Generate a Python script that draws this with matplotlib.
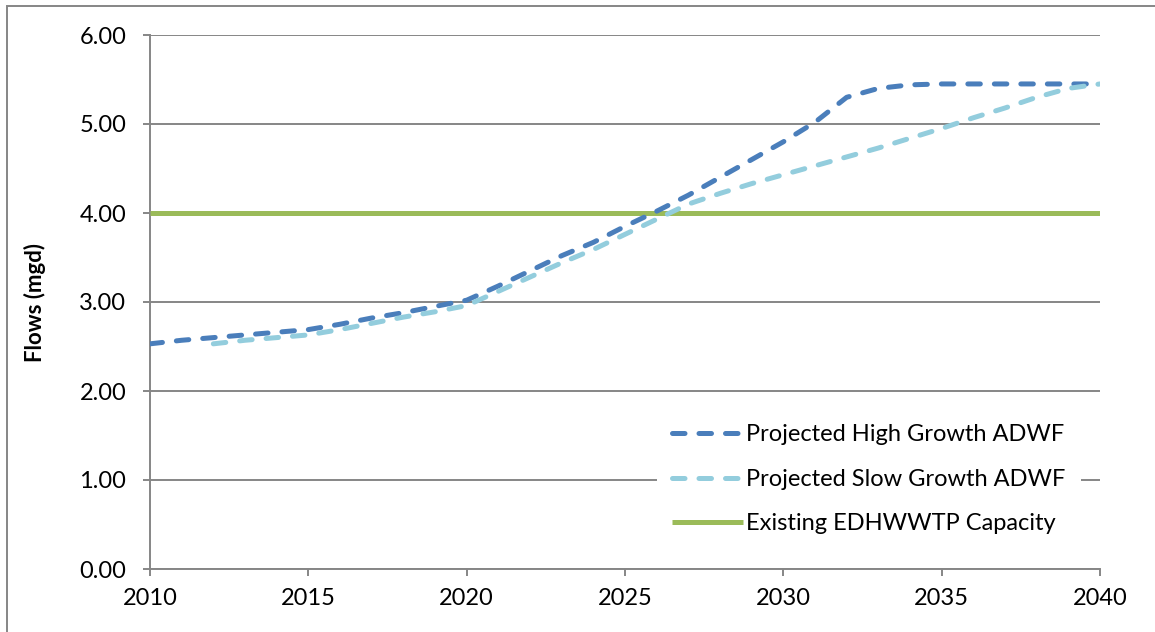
import matplotlib
matplotlib.use('Agg')
import matplotlib.pyplot as plt
from matplotlib.patches import Rectangle

plt.rcParams.update({
    'font.family': ['Lato', 'DejaVu Sans'],
    'font.size': 17,
})

# ---- data ----
years_high = list(range(2010, 2041))
high_growth = [2.53, 2.57, 2.60, 2.63, 2.66, 2.69, 2.75, 2.82, 2.88, 2.95,
               3.02, 3.18, 3.35, 3.52, 3.67, 3.85, 4.02, 4.20, 4.40, 4.60,
               4.80, 5.02, 5.30, 5.40, 5.44, 5.45, 5.45, 5.45, 5.45, 5.45,
               5.45]

years_slow = list(range(2012, 2041))
slow_growth = [2.53, 2.57, 2.60, 2.63, 2.69, 2.76, 2.83, 2.89,
               2.96, 3.12, 3.28, 3.44, 3.59, 3.76, 3.93, 4.10, 4.22, 4.33,
               4.43, 4.53, 4.63, 4.73, 4.84, 4.95, 5.07, 5.18, 5.30, 5.40,
               5.45]

capacity_years = [2010, 2040]
capacity = [4.0, 4.0]

labels = ['Projected High Growth ADWF', 'Projected Slow Growth ADWF',
          'Existing EDHWWTP Capacity']
colors = ['#4A7EBB', '#93CDDD', '#9BBB59']

GRID = '#868686'

fig = plt.figure(figsize=(11.55, 6.32), dpi=100)
ax = fig.add_axes([150/1155, 1 - 569/632, 950/1155, 534/632])

lw = 3.6
ax.plot(years_high, high_growth, color=colors[0], lw=lw, dashes=(2.5, 2.8),
        dash_capstyle='round', solid_capstyle='round', label=labels[0], zorder=4)
ax.plot(years_slow, slow_growth, color=colors[1], lw=lw, dashes=(2.5, 2.8),
        dash_capstyle='round', solid_capstyle='round', label=labels[1], zorder=5)
ax.plot(capacity_years, capacity, color=colors[2], lw=lw, solid_capstyle='butt',
        label=labels[2], zorder=3)

ax.set_xlim(2010, 2040)
ax.set_ylim(0, 6)
ax.set_xticks(range(2010, 2041, 5))
ax.set_yticks([0, 1, 2, 3, 4, 5, 6])
ax.set_yticklabels([f'{v:.2f}' for v in range(7)])

ax.grid(True, axis='y', color=GRID, lw=1.4, zorder=0)
ax.set_axisbelow(True)
for s in ['top', 'right']:
    ax.spines[s].set_visible(False)
for s in ['left', 'bottom']:
    ax.spines[s].set_color(GRID)
    ax.spines[s].set_linewidth(1.4)
ax.tick_params(axis='both', direction='out', length=5, width=1.4, color=GRID,
               labelsize=17, labelcolor='black')
ax.tick_params(axis='y', pad=12)
ax.tick_params(axis='x', pad=9)

ax.set_ylabel('Flows (mgd)', fontsize=16, fontweight='bold', labelpad=24)

leg = ax.legend(loc='upper left', bbox_to_anchor=(0.521, 0.322), frameon=True,
                facecolor='white', edgecolor='none', framealpha=1,
                fancybox=False, handlelength=3.0, handletextpad=0.15,
                labelspacing=1.0, borderpad=0.65, fontsize=17)
leg.set_zorder(6)

# outer chart border (only top/left visible in the reference)
fig.patches.append(Rectangle((7/1155, -0.1), 1.2, 1.1 - 6/632, transform=fig.transFigure,
                             fill=False, edgecolor=GRID, lw=1.4))

fig.savefig('out.png', dpi=100, facecolor='white')
